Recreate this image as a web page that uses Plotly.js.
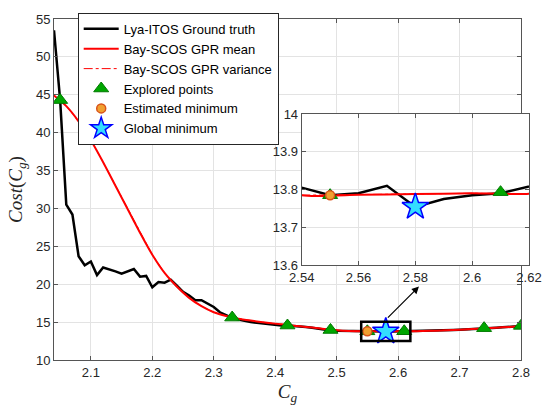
<!DOCTYPE html>
<html>
<head>
<meta charset="utf-8">
<script src="https://cdn.plot.ly/plotly-3.0.1.min.js"></script>
<style>html,body{margin:0;padding:0;background:#fff;}#chart{width:543px;height:413px;}</style>
</head>
<body>
<div id="chart"></div>
<script>
// Ground truth (Lya-ITOS), sampled every 0.01
var cgGrid = [2.04,2.05,2.06,2.07,2.08,2.09,2.10,2.11,2.12,2.13,2.14,2.15,2.16,2.17,2.18,2.19,2.20,2.21,2.22,2.23,2.24,2.25,2.26,2.27,2.28,2.29,2.30,2.31,2.32,2.33,2.34,2.35,2.36,2.37,2.38,2.39,2.40,2.41,2.42,2.43,2.44,2.45,2.46,2.47,2.48,2.49,2.50,2.51,2.52,2.53,2.54,2.55,2.56,2.57,2.58,2.59,2.60,2.61,2.62,2.63,2.64,2.65,2.66,2.67,2.68,2.69,2.70,2.71,2.72,2.73,2.74,2.75,2.76,2.77,2.78,2.79,2.80];
var groundTruth = [53.5,44.3,30.5,29.2,23.7,22.5,23.0,21.2,22.2,22.0,21.7,21.4,21.7,22.0,21.0,21.1,19.6,20.3,20.2,20.6,19.8,19.0,18.5,17.9,17.9,17.5,17.0,16.3,15.9,15.55,15.35,15.15,15.0,14.9,14.8,14.7,14.6,14.55,14.55,14.5,14.45,14.35,14.25,14.1,13.95,13.9,13.85,13.83,13.815,13.81,13.805,13.785,13.79,13.81,13.754,13.775,13.785,13.79,13.806,13.82,13.84,13.86,13.88,13.9,13.92,13.95,13.98,14.01,14.05,14.1,14.15,14.2,14.26,14.32,14.38,14.43,14.48];
// Bay-SCOS GPR mean
var gprX = [2.04,2.06,2.08,2.10,2.12,2.14,2.16,2.18,2.20,2.22,2.24,2.26,2.28,2.30,2.32,2.34,2.36,2.38,2.40,2.42,2.44,2.46,2.48,2.50,2.52,2.54,2.56,2.58,2.60,2.62,2.64,2.66,2.68,2.70,2.72,2.74,2.76,2.78,2.80];
var gprMean = [44.9,43.5,41.5,39.0,36.1,33.0,29.9,26.8,23.9,21.5,19.7,18.2,17.1,16.3,15.8,15.45,15.2,14.98,14.8,14.62,14.45,14.28,14.1,13.94,13.84,13.785,13.786,13.788,13.79,13.789,13.82,13.87,13.93,14.0,14.08,14.17,14.26,14.36,14.46];
// Bay-SCOS GPR variance band (coincides with the mean at this scale)
var gprVar = [44.9,43.5,41.5,39.0,36.1,33.0,29.9,26.8,23.9,21.5,19.7,18.2,17.1,16.3,15.8,15.45,15.2,14.98,14.8,14.62,14.45,14.28,14.1,13.94,13.84,13.785,13.786,13.788,13.79,13.789,13.82,13.87,13.93,14.0,14.08,14.17,14.26,14.36,14.46];
// Explored points
var exploredX = [2.05,2.33,2.42,2.49,2.55,2.61,2.74,2.80];
var exploredY = [44.3,15.6,14.55,13.96,13.785,13.793,14.2,14.5];
// Estimated minimum and global minimum
var estMinX = [2.55], estMinY = [13.785];
var globMinX = [2.58], globMinY = [13.754];
// Tick values
var mainXTicks = [2.1,2.2,2.3,2.4,2.5,2.6,2.7,2.8];
var mainYTicks = [10,15,20,25,30,35,40,45,50,55];
var insetXTicks = [2.54,2.56,2.58,2.6,2.62];
var insetYTicks = [13.6,13.7,13.8,13.9,14];
// Zoom box and arrow (main axes coordinates)
var zoomBox = {x0: 2.54, x1: 2.62, y0: 12.5, y1: 15.05};
var arrowTail = {x: 2.581, y: 15.4}, arrowHead = {x: 2.634, y: 19.7};

var names = ['Lya-ITOS Ground truth','Bay-SCOS GPR mean','Bay-SCOS GPR variance','Explored points','Estimated minimum','Global minimum'];

function traces(xa, ya, legend) {
  return [
    {x: cgGrid, y: groundTruth, xaxis: xa, yaxis: ya, mode: 'lines', name: names[0], legendrank: 1, showlegend: legend,
     line: {color: '#000000', width: 2.5}},
    {x: gprX, y: gprVar, xaxis: xa, yaxis: ya, mode: 'lines', name: names[2], legendrank: 3, showlegend: legend,
     line: {color: '#ff0000', width: 1, dash: 'dashdot'}},
    {x: gprX, y: gprMean, xaxis: xa, yaxis: ya, mode: 'lines', name: names[1], legendrank: 2, showlegend: legend,
     line: {color: '#ff0000', width: 2, shape: 'spline', smoothing: 0.6}},
    {x: exploredX, y: exploredY, xaxis: xa, yaxis: ya, mode: 'markers', name: names[3], legendrank: 4, showlegend: legend,
     marker: {symbol: 'triangle-up', size: 13, color: '#00a600', line: {color: '#007a00', width: 1}}},
    {x: estMinX, y: estMinY, xaxis: xa, yaxis: ya, mode: 'markers', name: names[4], legendrank: 5, showlegend: legend,
     marker: {symbol: 'circle', size: 9, color: '#f0a030', line: {color: '#d95319', width: 1.5}}},
    {x: globMinX, y: globMinY, xaxis: xa, yaxis: ya, mode: 'markers', name: names[5], legendrank: 6, showlegend: legend,
     marker: {symbol: 'star', size: 20, color: '#33ddff', line: {color: '#0000ff', width: 1.5}}}
  ];
}

var data = traces('x', 'y', true).concat(traces('x2', 'y2', false));

var tickFont = {family: 'Liberation Sans, Arial, sans-serif', size: 13, color: '#262626'};
var axCommon = {
  showline: true, linecolor: '#555555', linewidth: 1, mirror: 'ticks',
  ticks: 'inside', ticklen: 4, tickcolor: '#555555', tickwidth: 1,
  showgrid: true, gridcolor: '#e3e3e3', gridwidth: 1, zeroline: false,
  tickfont: tickFont, tickmode: 'array'
};
function ax(extra) { return Object.assign({}, axCommon, extra); }

var titleFont = {family: 'Liberation Serif, serif', size: 19, color: '#262626'};

var layout = {
  width: 543, height: 413,
  margin: {l: 54, r: 14, t: 19, b: 53},
  paper_bgcolor: '#ffffff', plot_bgcolor: '#ffffff',
  showlegend: true,
  xaxis: ax({domain: [0, 0.9832], range: [2.04, 2.8001], tickvals: mainXTicks, anchor: 'y',
    title: {text: '<i>C</i><sub><i>g</i></sub>', font: titleFont, standoff: 6}}),
  yaxis: ax({domain: [0, 1], range: [10, 55.001], tickvals: mainYTicks, anchor: 'x',
    title: {text: '<i>Cost</i>(<i>C</i><sub><i>g</i></sub>)', font: titleFont, standoff: 8}}),
  xaxis2: ax({domain: [0.5215, 1], range: [2.54, 2.62001], tickvals: insetXTicks, anchor: 'y2'}),
  yaxis2: ax({domain: [0.2786, 0.7214], range: [13.6, 14.0001], tickvals: insetYTicks, anchor: 'x2'}),
  legend: {x: 0.0499, y: 1.018, xanchor: 'left', yanchor: 'top', bgcolor: '#ffffff',
    bordercolor: '#262626', borderwidth: 1, itemwidth: 35,
    font: {family: 'Liberation Sans, Arial, sans-serif', size: 13, color: '#000000'}},
  shapes: [{type: 'rect', xref: 'x', yref: 'y', x0: zoomBox.x0, x1: zoomBox.x1, y0: zoomBox.y0, y1: zoomBox.y1,
    line: {color: '#000000', width: 2.5}, layer: 'above'}],
  annotations: [{xref: 'x', yref: 'y', axref: 'x', ayref: 'y', x: arrowHead.x, y: arrowHead.y,
    ax: arrowTail.x, ay: arrowTail.y, text: '', showarrow: true, arrowhead: 2, arrowsize: 1.2,
    arrowwidth: 1.2, arrowcolor: '#000000', standoff: 0, startstandoff: 0}]
};

Plotly.newPlot('chart', data, layout, {displayModeBar: false, staticPlot: true});
</script>
</body>
</html>
